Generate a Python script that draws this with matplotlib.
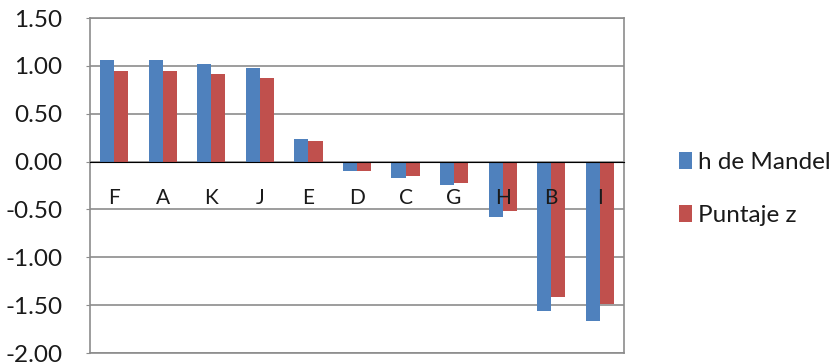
import matplotlib
matplotlib.use("Agg")
import matplotlib.pyplot as plt
import numpy as np

# data
labs = ["F", "A", "K", "J", "E", "D", "C", "G", "H", "B", "I"]
h_mandel = [1.06, 1.06, 1.02, 0.98, 0.24, -0.10, -0.17, -0.24, -0.58, -1.56, -1.67]
puntaje_z = [0.95, 0.95, 0.91, 0.87, 0.22, -0.10, -0.15, -0.22, -0.52, -1.41, -1.49]
yticks = [1.5, 1.0, 0.5, 0.0, -0.5, -1.0, -1.5, -2.0]

blue = "#4F81BD"
red = "#C0504D"
grid_c = "#8C8C8C"

plt.rcParams['font.family'] = ['Lato', 'DejaVu Sans']

fig = plt.figure(figsize=(8.38, 3.64), dpi=100)
ax = fig.add_axes([0.1074, 0.0302, 0.6372, 0.9203])

x = np.arange(len(labs))
w = 0.29
ax.bar(x - w / 2, h_mandel, w, color=blue, label="h de Mandel", zorder=3)
ax.bar(x + w / 2, puntaje_z, w, color=red, label="Puntaje z", zorder=3)

ymin, ymax = -2.0, 1.5
ax.set_ylim(ymin, ymax)
ax.set_xlim(-0.5, len(labs) - 0.5)
ax.set_yticks(yticks)
ax.set_yticklabels(["%.2f" % v for v in yticks], fontsize=17.5, color="#1a1a1a")
ax.yaxis.grid(True, color=grid_c, linewidth=1.2, zorder=0)
ax.tick_params(axis='y', length=3, color=grid_c, pad=17)
ax.tick_params(axis='x', bottom=False, labelbottom=False)
for s in ax.spines.values():
    s.set_color(grid_c)
    s.set_linewidth(1.2)

# category axis sitting on the zero line
sec = ax.secondary_xaxis((0 - ymin) / (ymax - ymin))
sec.set_zorder(5)
sec.set_xticks(x, labels=labs)
sec.xaxis.set_ticks_position('bottom')
sec.tick_params(length=0, pad=19, labelsize=15, labelbottom=True, labeltop=False,
                labelcolor="#1a1a1a")
sec.spines['bottom'].set_color(grid_c)
sec.spines['bottom'].set_linewidth(1.2)

ax.legend(loc='center left', bbox_to_anchor=(0.81, 0.48), bbox_transform=fig.transFigure,
          frameon=False, fontsize=17.5, handlelength=0.55, handleheight=0.7,
          handletextpad=0.25, labelspacing=1.3, borderpad=0, borderaxespad=0,
          labelcolor="#1a1a1a")

fig.savefig("out.png", dpi=100)
